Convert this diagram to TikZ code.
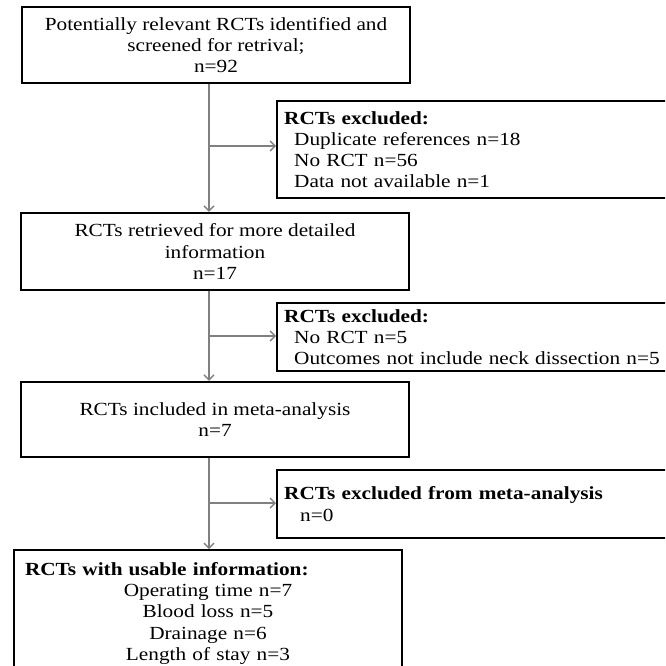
\documentclass[tikz,border=0pt]{standalone}
\usepackage{fontspec}
\setmainfont[FakeStretch=1.15]{Liberation Serif}
\usepackage{tikz}
\usetikzlibrary{arrows.meta}
\definecolor{flowgray}{RGB}{128,128,128}

\begin{document}
\begin{tikzpicture}[x=1pt,y=-1pt,
  box/.style={draw,rectangle,line width=2.4pt,minimum width=388pt,inner sep=0pt,align=center,font=\fontsize{18.5}{21.3}\selectfont},
  exbox/.style={draw,rectangle,line width=2.4pt,anchor=north west,text width=406pt,inner xsep=7pt,inner ysep=0pt,align=left,font=\fontsize{18.5}{21.3}\selectfont},
  flow/.style={flowgray,line width=1.4pt,-{Straight Barb[length=5pt,width=10pt]}}]
\useasboundingbox (0,0) rectangle (665,666);
\clip (0,0) rectangle (665,666);

\node [box,minimum height=76pt] (scr) at (216,45) {Potentially relevant RCTs identified and\\screened for retrival;\\n=92};
\node [exbox,minimum height=97pt] (ex1) at (276,100) {\textbf{RCTs excluded:}\\\hspace*{10pt}Duplicate references n=18\\\hspace*{10pt}No RCT n=56\\\hspace*{10pt}Data not available n=1};

\node [box,minimum height=77pt] (rt) at (215,251.5) {RCTs retrieved for more detailed\\information\\n=17};
\node [exbox,minimum height=68pt] (ex2) at (276,302) {\textbf{RCTs excluded:}\\\hspace*{10pt}No RCT n=5\\\hspace*{10pt}Outcomes not include neck dissection n=5};

\node [box,minimum height=75pt] (inc) at (215,419.5) {RCTs included in meta-analysis\\n=7};
\node [exbox,minimum height=68pt] (ex3) at (276,469) {\textbf{RCTs excluded from meta-analysis}\\\hspace*{16pt}n=0};

\node [box,anchor=north,text width=366pt,inner xsep=11pt,inner ysep=12pt] (use) at (208,549) {\makebox[366pt][l]{\textbf{RCTs with usable information:}}\\Operating time n=7\\Blood loss n=5\\Drainage n=6\\Length of stay n=3};

% branch points on the main line
\coordinate (b1) at (209,146);
\coordinate (b2) at (209,336);
\coordinate (b3) at (209,503);

\draw [flow] (scr.south -| b1) -- (rt.north -| b1);
\draw [flow] (b1) -- (b1 -| ex1.west);
\draw [flow] (rt.south -| b2) -- (inc.north -| b2);
\draw [flow] (b2) -- (b2 -| ex2.west);
\draw [flow] (inc.south -| b3) -- (use.north -| b3);
\draw [flow] (b3) -- (b3 -| ex3.west);
\end{tikzpicture}
\end{document}
